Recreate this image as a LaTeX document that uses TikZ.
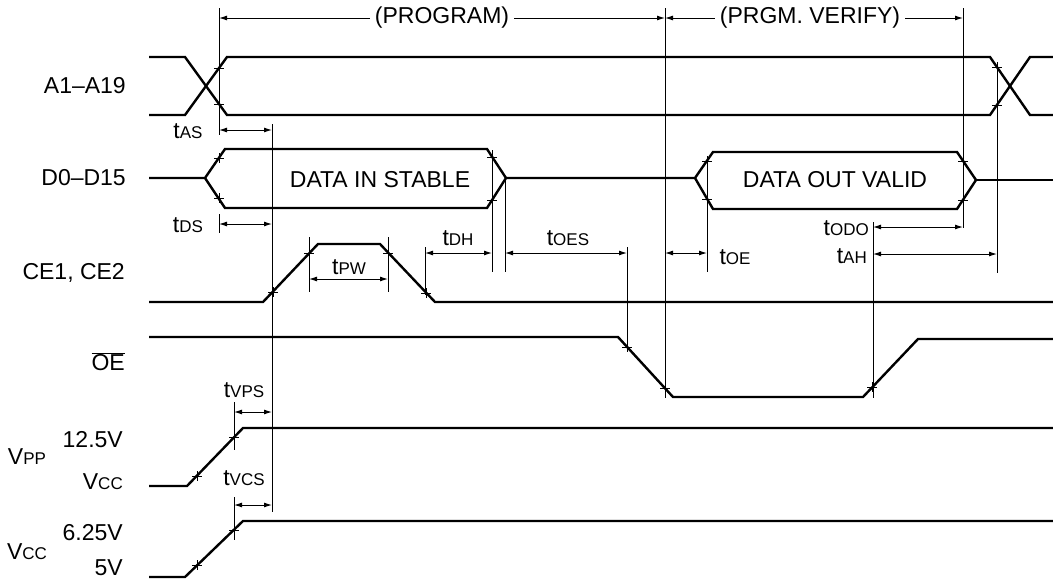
\documentclass[tikz,border=0pt]{standalone}
\usepackage{fontspec}
\setmainfont{Liberation Sans}
\usetikzlibrary{arrows.meta}
\newcommand{\subsz}{\fontsize{17}{17}\selectfont}
\newcommand{\tsub}[1]{t{\subsz #1}}
\newcommand{\vsub}[1]{V{\subsz #1}}
\begin{document}
\begin{tikzpicture}[x=1pt,y=-1pt,
  sig/.style={line width=2.4pt},
  thinl/.style={line width=1pt},
  dim/.style={line width=1pt,{Latex[length=8pt,width=5pt]}-{Latex[length=8pt,width=5pt]}},
  lbl/.style={font=\fontsize{23}{23}\selectfont, inner sep=0pt},
  tk/.style={line width=1pt}]
\useasboundingbox (0,0) rectangle (1053,579);
\def\tick(#1,#2){\draw[tk] (#1-5,#2) -- (#1+5,#2) (#1,#2-5) -- (#1,#2+5);}

% ---------- thin vertical reference lines
\draw[thinl] (219,8) -- (219,135);
\draw[thinl] (219,214) -- (219,233);
\draw[thinl] (272,124) -- (272,512);
\draw[thinl] (309,237) -- (309,292);
\draw[thinl] (388,237) -- (388,292);
\draw[thinl] (425,247) -- (425,295);
\draw[thinl] (492,150) -- (492,272);
\draw[thinl] (505,180) -- (505,272);
\draw[thinl] (627,247) -- (627,352);
\draw[thinl] (665,8) -- (665,398);
\draw[thinl] (707,158) -- (707,272);
\draw[thinl] (873,222) -- (873,398);
\draw[thinl] (963,8) -- (963,228);
\draw[thinl] (997,62) -- (997,273);
\draw[thinl] (234,402) -- (234,450);
\draw[thinl] (234,497) -- (234,540);

% ---------- top phase arrows
\draw[dim] (219,18) -- (665,18);
\node[lbl, fill=white, inner xsep=5pt] (prog) at (442,18) {(PROGRAM)};
\draw[dim] (665,18) -- (963,18);
\node[lbl, fill=white, inner xsep=5pt] (ver) at (810,18) {(PRGM. VERIFY)};

% ---------- A1-A19
\node[lbl, anchor=east] (la) at (126,86) {A1–A19};
\draw[sig] (149,57) -- (185,57) -- (227,115) -- (990,115) -- (1030,57) -- (1053,57);
\draw[sig] (149,115) -- (185,115) -- (227,57) -- (990,57) -- (1030,115) -- (1053,115);
\tick(219,68) \tick(219,104) \tick(997,67) \tick(997,105)

% ---------- D0-D15
\node[lbl, anchor=east] (ld) at (126,178) {D0–D15};
\draw[sig] (149,178) -- (205,178) -- (225,149) -- (487,149) -- (506,178) -- (487,208) -- (225,208) -- (205,178);
\draw[sig] (506,178) -- (695,178) -- (713,152) -- (957,152) -- (976,180) -- (957,209) -- (713,209) -- (695,178);
\draw[sig] (976,180) -- (1053,180);
\node[lbl] (din) at (380,180) {DATA IN STABLE};
\node[lbl] (dout) at (835,180) {DATA OUT VALID};
\tick(219,158) \tick(219,198) \tick(492,157) \tick(492,200)
\tick(707,161) \tick(707,199) \tick(963,161) \tick(963,200)

% ---------- CE1, CE2
\node[lbl, anchor=east] (lce) at (125,273) {CE1, CE2};
\draw[sig] (149,302) -- (263,302) -- (318,244) -- (380,244) -- (435,302) -- (1053,302);
\tick(273,292) \tick(309,253) \tick(388,253) \tick(426,293)

% ---------- OE
\node[lbl, anchor=east] (loe) at (125,362) {$\overline{\mbox{OE}}$};
\draw[sig] (149,337) -- (618,337) -- (673,397) -- (863,397) -- (918,339) -- (1053,339);
\tick(627,347) \tick(665,388) \tick(872,387)

% ---------- VPP
\node[lbl] (lvpp) at (27,457) {\vsub{PP}};
\node[lbl, anchor=east] (l125) at (123,440) {12.5V};
\node[lbl, anchor=east] (lvcc1) at (123,482) {\vsub{CC}};
\draw[sig] (149,486) -- (187,486) -- (243,428) -- (1053,428);
\tick(197,476) \tick(234,437)

% ---------- VCC
\node[lbl] (lvcc) at (27,552) {\vsub{CC}};
\node[lbl, anchor=east] (l625) at (123,533) {6.25V};
\node[lbl, anchor=east] (l5) at (123,568) {5V};
\draw[sig] (149,577) -- (185,577) -- (243,521) -- (1053,521);
\tick(197,565) \tick(234,530)

% ---------- timing dimensions
\draw[dim] (219,130) -- (272,130);
\node[lbl] (tas) at (188,131) {\tsub{AS}};
\draw[dim] (219,224) -- (272,224);
\node[lbl] (tds) at (188,225) {\tsub{DS}};
\draw[dim] (309,279) -- (388,279);
\node[lbl] (tpw) at (349,267) {\tsub{PW}};
\draw[dim] (425,253) -- (492,253);
\node[lbl] (tdh) at (458,238) {\tsub{DH}};
\draw[dim] (505,253) -- (627,253);
\node[lbl] (toes) at (568,238) {\tsub{OES}};
\draw[dim] (665,253) -- (707,253);
\node[lbl] (toe) at (735,257) {\tsub{OE}};
\draw[dim] (873,227) -- (963,227);
\node[lbl, anchor=east] (todo) at (869,228) {\tsub{ODO}};
\draw[dim] (873,254) -- (997,254);
\node[lbl, anchor=east] (tah) at (867,256) {\tsub{AH}};
\draw[dim] (234,412) -- (272,412);
\node[lbl] (tvps) at (244,390) {\tsub{VPS}};
\draw[dim] (234,505) -- (272,505);
\node[lbl] (tvcs) at (244,478) {\tsub{VCS}};
\end{tikzpicture}
\end{document}
